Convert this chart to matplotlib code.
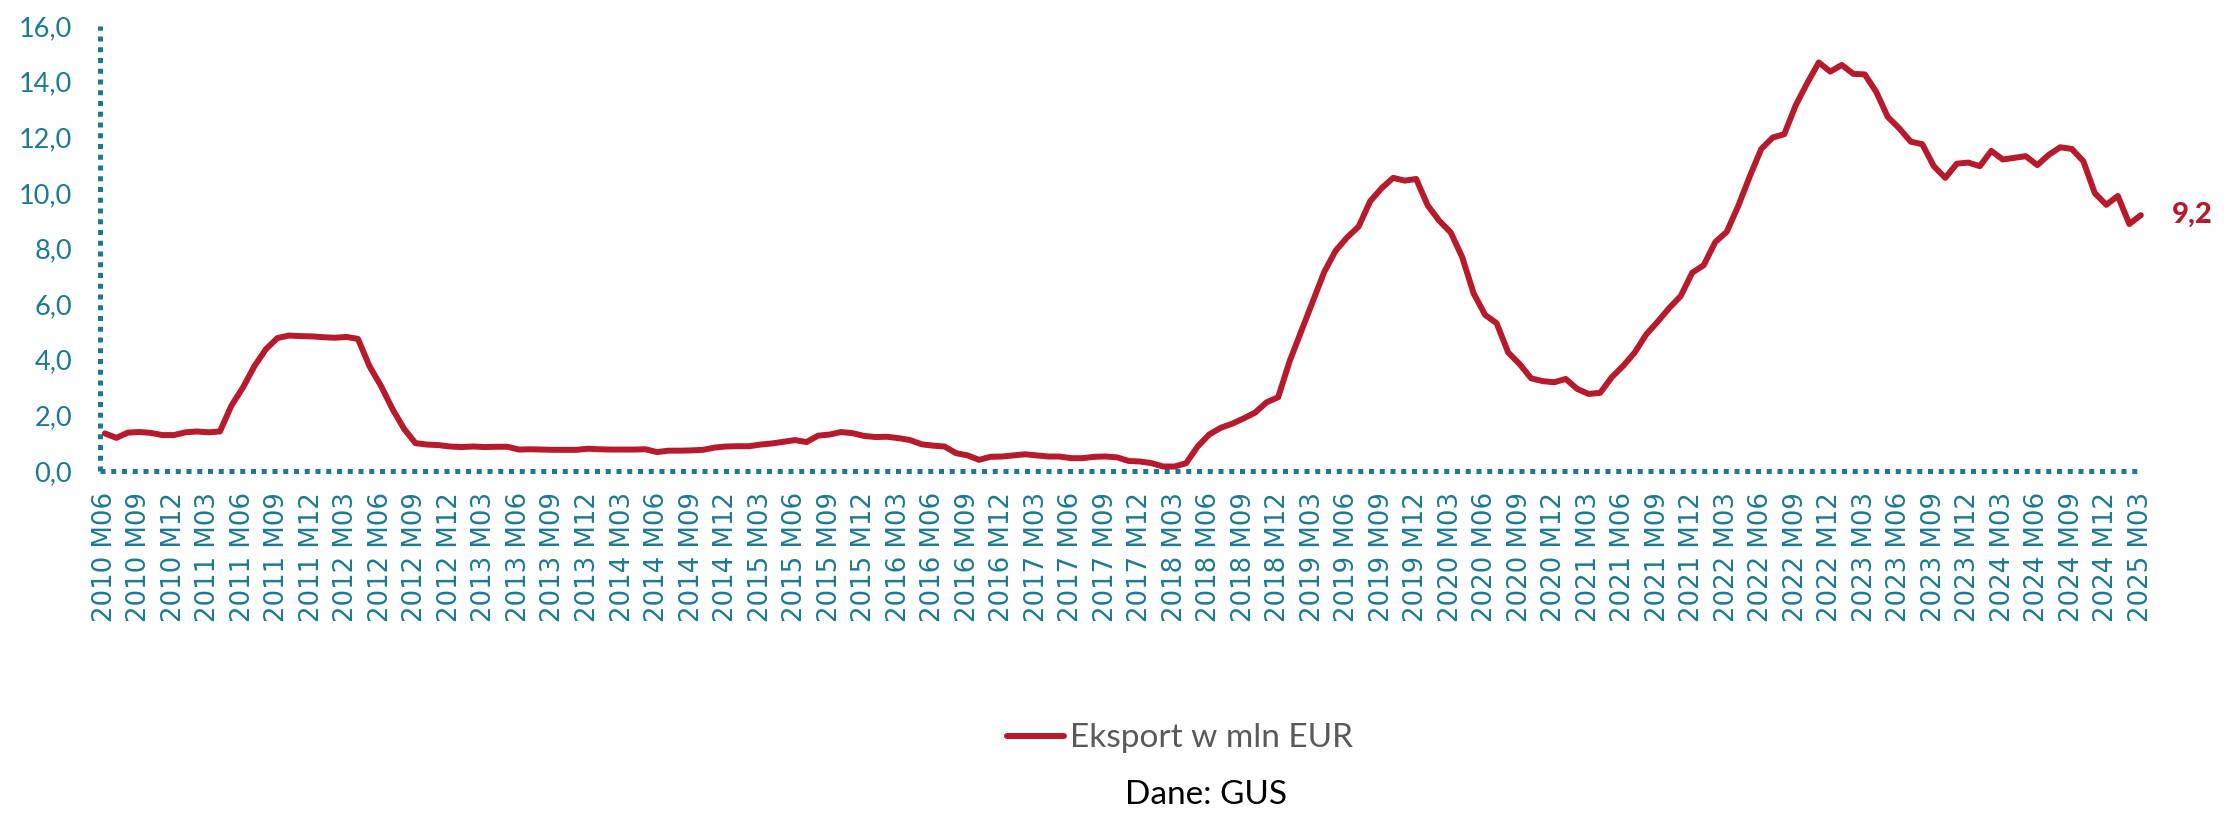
import matplotlib.pyplot as plt
import numpy as np

# miesieczny eksport, 2010 M06 - 2025 M03
start_year, start_month = 2010, 6
eksport = [
    1.35, 1.19, 1.38, 1.40, 1.37, 1.29, 1.29, 1.39, 1.42, 1.39,
    1.42, 2.35, 3.00, 3.77, 4.38, 4.78, 4.87, 4.85, 4.84, 4.81,
    4.79, 4.82, 4.75, 3.77, 3.06, 2.23, 1.52, 1.00, 0.95, 0.93,
    0.88, 0.86, 0.88, 0.86, 0.87, 0.87, 0.77, 0.78, 0.77, 0.76,
    0.76, 0.76, 0.80, 0.78, 0.77, 0.77, 0.77, 0.78, 0.68, 0.73,
    0.73, 0.74, 0.76, 0.84, 0.88, 0.89, 0.89, 0.95, 0.99, 1.05,
    1.11, 1.04, 1.27, 1.31, 1.40, 1.36, 1.26, 1.22, 1.23, 1.18,
    1.11, 0.96, 0.91, 0.88, 0.64, 0.56, 0.40, 0.51, 0.52, 0.56,
    0.60, 0.56, 0.52, 0.52, 0.46, 0.46, 0.51, 0.52, 0.49, 0.36,
    0.34, 0.28, 0.16, 0.16, 0.28, 0.88, 1.31, 1.55, 1.70, 1.89,
    2.10, 2.47, 2.65, 3.95, 5.02, 6.09, 7.15, 7.92, 8.40, 8.79,
    9.70, 10.17, 10.54, 10.44, 10.50, 9.55, 9.00, 8.58, 7.69, 6.38,
    5.61, 5.31, 4.26, 3.84, 3.33, 3.23, 3.19, 3.31, 2.95, 2.77,
    2.81, 3.37, 3.78, 4.26, 4.91, 5.37, 5.86, 6.29, 7.13, 7.40,
    8.23, 8.60, 9.53, 10.59, 11.58, 11.99, 12.11, 13.15, 13.95, 14.69,
    14.36, 14.60, 14.28, 14.26, 13.63, 12.73, 12.32, 11.84, 11.75, 10.96,
    10.54, 11.05, 11.09, 10.96, 11.51, 11.20, 11.26, 11.32, 11.00, 11.37,
    11.64, 11.58, 11.14, 9.99, 9.57, 9.89, 8.88, 9.20,
]
ostatnia = "9,2"
yticks = [0, 2, 4, 6, 8, 10, 12, 14, 16]

teal = "#1B7A93"
red = "#B8192B"

labels = []
for k in range(len(eksport)):
    m = start_month - 1 + k
    labels.append(f"{start_year + m // 12} M{m % 12 + 1:02d}")

x = np.arange(len(eksport))

fig = plt.figure(figsize=(22.31, 8.13), dpi=100)
ax = fig.add_axes([0.0448, 0.4207, 0.9153, 0.5473])

ax.plot(x, eksport, color=red, lw=4.3, solid_joinstyle="round",
        solid_capstyle="round", label="Eksport w mln EUR", clip_on=False, zorder=3)

ax.set_xlim(-0.43, len(eksport) - 0.9)
ax.set_ylim(0, 16)

ax.set_xticks(x[::3])
ax.set_xticklabels(labels[::3], rotation=90, fontsize=18.7, color=teal,
                   family="DejaVu Sans")
ax.set_yticks(yticks)
ax.set_yticklabels([f"{v},0" for v in yticks], fontsize=19.5, color=teal,
                   family="Lato")
ax.tick_params(axis="both", length=0)
ax.tick_params(axis="y", pad=20)
ax.tick_params(axis="x", pad=15)

for side in ("top", "right"):
    ax.spines[side].set_visible(False)
for side in ("left", "bottom"):
    sp = ax.spines[side]
    sp.set_color(teal)
    sp.set_linewidth(3.6)
    sp.set_linestyle((0, (1, 1.15)))
    sp.set_capstyle("butt")

ax.annotate(ostatnia, xy=(x[-1], eksport[-1]), xytext=(22, 0),
            textcoords="offset points", ha="left", va="center",
            fontsize=21, fontweight="black", color=red, family="Lato")

leg = fig.legend(loc="center", bbox_to_anchor=(0.529, 0.092), frameon=False,
                 prop={"family": "Lato", "size": 24}, handlelength=1.7,
                 handletextpad=0.2)
for t in leg.get_texts():
    t.set_color("#595959")

fig.text(0.5406, 0.022, "Dane: GUS", ha="center", va="center",
         fontsize=24, family="Lato", color="black")

fig.savefig("out.png", dpi=100)
